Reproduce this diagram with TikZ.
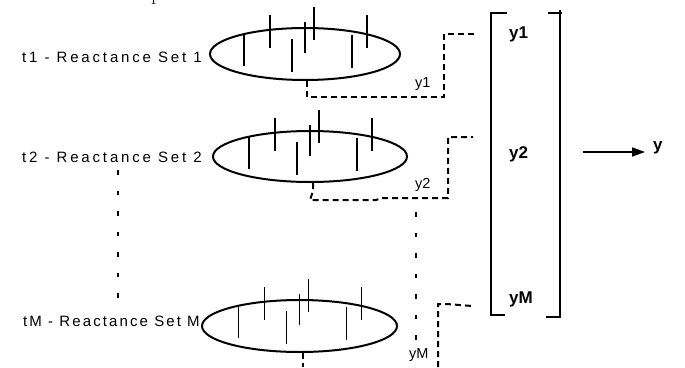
\documentclass[tikz,border=0pt]{standalone}
\usepackage{fontspec}
\setmainfont{Liberation Sans}
\newfontfamily\serifcut{Latin Modern Roman}
\usetikzlibrary{shapes.geometric,arrows.meta,calc}
\tikzset{
  oval/.style={draw,ellipse,line width=2pt,inner sep=0pt},
  tickmark/.style={line width=1.7pt},
  setlabel/.style={anchor=base west,inner sep=0pt,font=\fontsize{15}{17}\selectfont},
  outlabel/.style={anchor=base west,inner sep=0pt,font=\fontsize{14.5}{16}\selectfont},
  veclabel/.style={anchor=base west,inner sep=0pt,font=\bfseries\fontsize{17}{19}\selectfont},
  link/.style={line width=2pt,dash pattern=on 6pt off 4pt},
  etc/.style={line width=2pt,dash pattern=on 4.5pt off 16pt},
  bracket/.style={line width=2pt},
}
\begin{document}
\begin{tikzpicture}[x=1pt,y=-1pt]
\useasboundingbox (0,0) rectangle (685,367);

% fragment of the caption set above
\node[anchor=base west,inner sep=0pt,font=\serifcut\fontsize{20}{22}\selectfont] (cap) at (151,0) {p};

% reactance sets
\node[oval,minimum width=190pt,minimum height=52pt] (e1) at (305,54) {};
\node[oval,minimum width=194pt,minimum height=51pt] (e2) at (310,156.5) {};
\node[oval,minimum width=195pt,minimum height=52pt] (eM) at (299.5,326) {};

\foreach \e in {e1,e2,eM}
  \foreach \dx/\ya/\yb in {-61/-20/12,-35/-39/-6,-13/-15/18,0/-32/-1,9/-47/-14,47/-19/14,62/-39/-6}
    \draw[tickmark] ([shift={(\dx,\ya)}]\e.center) -- ([shift={(\dx,\yb)}]\e.center);

% set labels
\node[setlabel] (t1) at (22,62) {\addfontfeatures{LetterSpace=19}t1 - Reactance Set 1};
\node[setlabel] (t2) at (22,162) {\addfontfeatures{LetterSpace=19}t2 - Reactance Set 2};
\node[setlabel] (tM) at (23,326) {\addfontfeatures{LetterSpace=14}tM - Reactance Set M};

% outputs of each set
\node[outlabel] (o1) at (415,87) {y1};
\node[outlabel] (o2) at (415,188) {y2};
\node[outlabel] (oM) at (409,358) {yM};

% output vector
\node[veclabel] (v1) at (509,38) {y1};
\node[veclabel] (v2) at (509,158) {y2};
\node[veclabel] (vM) at (509,303) {yM};
\draw[bracket] (507,13) -- (491,13) -- (491,315) -- (505,315);
\draw[bracket] (548,13) -- (562,13);
\draw[bracket] (560,10) -- (560,317) -- (546,317);

% result
\node[veclabel,anchor=base west] (y) at (653,150.5) {y};
\coordinate (ys) at (583,152);
\coordinate (ye) at (645,152);
\draw[line width=1.7pt,-{Triangle[length=13pt,width=9pt]}] (ys) -- (ye);

% dashed connectors from each set to the vector
\coordinate (in1) at (477,34);
\coordinate (in2) at (473,137);
\coordinate (inM) at (472,306);
\coordinate (endM) at (303,367);
\coordinate (outM) at (438,367);
\draw[link] ([xshift=2pt]e1.south) -- ++(0,16) -| (444,34) -- (in1);
\draw[link] ([xshift=3pt]e2.south) -- ++(0,8) -- (310,200) -- (376,200) -- (382,198) -- (448,198) -- (448,137) -- (in2);
\draw[link] ([xshift=3.5pt]eM.south) -- (endM);
\draw[link] (outM) -- (438,304) -- (447,304) -- (inM);

% continuation marks
\coordinate (c1) at (118,170);
\coordinate (c2) at (118,300);
\coordinate (c3) at (416,212);
\coordinate (c4) at (416,342);
\draw[etc] (c1) -- (c2);
\draw[etc] (c3) -- (c4);
\end{tikzpicture}
\end{document}
